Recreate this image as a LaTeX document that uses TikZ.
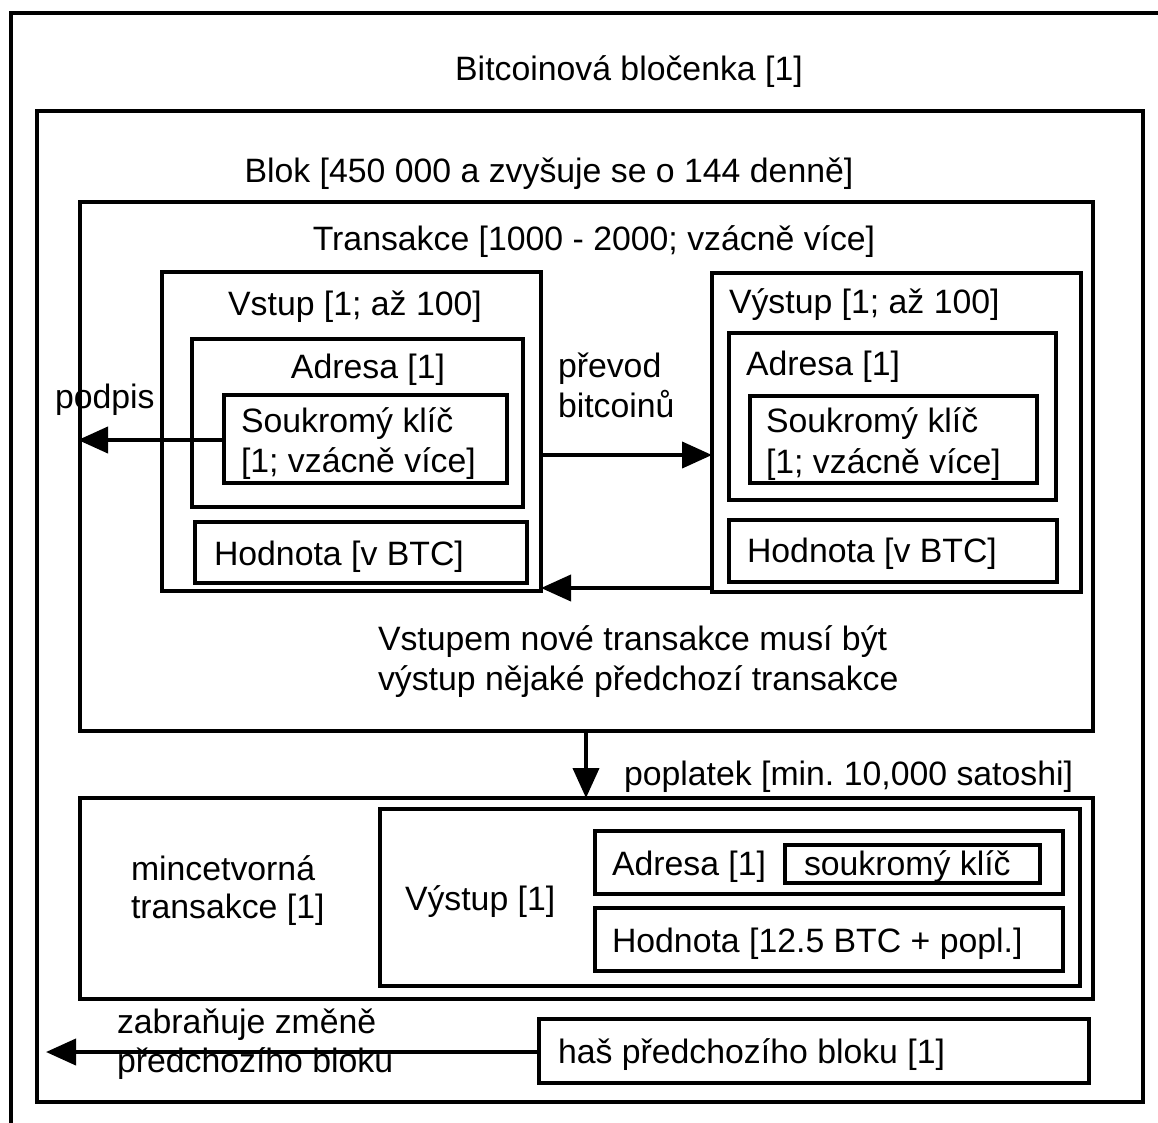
\documentclass[tikz,border=0pt]{standalone}
\usepackage{fontspec}
\setmainfont{Liberation Sans}
\usetikzlibrary{arrows.meta}
\frenchspacing
\tikzset{
  bx/.style={draw, rectangle, line width=4.5pt, inner sep=0pt, outer sep=0pt},
  lbl/.style={inner sep=0pt, outer sep=0pt, anchor=base west},
  clbl/.style={inner sep=0pt, outer sep=0pt, anchor=base},
  arr/.style={line width=4pt, -{Triangle[length=30pt,width=26pt]}},
  every node/.style={font=\fontsize{33.8pt}{40pt}\selectfont}
}
% box from corner (x1,y1) to corner (x2,y2), y measured downwards
\newcommand\bx[5]{\node[bx, minimum width={#4-#2}, minimum height={#5-#3}] (#1) at ({(#2+#4)/2},{(#3+#5)/2}) {};}
\begin{document}
\begin{tikzpicture}[x=1pt, y=-1pt]
\useasboundingbox (0,0) rectangle (1158,1122);
\clip (0,0) rectangle (1158,1122);
\fill[white] (0,0) rectangle (1158,1122);

% nested containers
\bx{chain}{11}{13}{1190}{1160}
\bx{blok}{37}{111}{1143}{1102}
\bx{tx}{80}{202}{1093}{731}
\bx{vstup}{162}{272}{541}{591}
\bx{adrL}{192}{339}{523}{507}
\bx{skL}{224}{395}{507}{483}
\bx{hodL}{195}{522}{527}{583}
\bx{vystup}{712}{273}{1081}{592}
\bx{adrR}{729}{333}{1056}{500}
\bx{skR}{750}{396}{1037}{483}
\bx{hodR}{729}{520}{1057}{582}
\bx{coin}{80}{798}{1093}{999}
\bx{cvyst}{380}{809}{1080}{986}
\bx{cadr}{595}{831}{1063}{894}
\bx{csk}{785}{845}{1040}{883}
\bx{chod}{595}{908}{1063}{971}
\bx{has}{539}{1019}{1089}{1083}

% labels
\node[clbl] (tChain) at (629,80) {Bitcoinová bločenka [1]};
\node[clbl] (tBlok) at (549,182) {Blok [450 000 a zvyšuje se o 144 denně]};
\node[clbl] (tTx) at (594,250) {Transakce [1000 - 2000; vzácně více]};
\node[clbl] (tVstup) at (355,315) {Vstup [1; až 100]};
\node[clbl] (tAdrL) at (368,378) {Adresa [1]};
\node[lbl] (tSkL1) at (241,432) {Soukromý klíč};
\node[lbl] (tSkL2) at (241,472) {[1; vzácně více]};
\node[lbl] (tHodL) at (214,565) {Hodnota [v BTC]};
\node[lbl] (tPodpis) at (55,408) {podpis};
\node[lbl] (tVystup) at (729,313) {Výstup [1; až 100]};
\node[lbl] (tAdrR) at (746,375) {Adresa [1]};
\node[lbl] (tSkR1) at (766,432) {Soukromý klíč};
\node[lbl] (tSkR2) at (766,473) {[1; vzácně více]};
\node[lbl] (tHodR) at (747,562) {Hodnota [v BTC]};
\node[lbl] (tPrevod1) at (558,377) {převod};
\node[lbl] (tPrevod2) at (558,417) {bitcoinů};
\node[lbl] (tNote1) at (378,650) {Vstupem nové transakce musí být};
\node[lbl] (tNote2) at (378,690) {výstup nějaké předchozí transakce};
\node[lbl] (tFee) at (624,785) {poplatek [min. 10,000 satoshi]};
\node[lbl] (tCoin1) at (131,880) {mincetvorná};
\node[lbl] (tCoin2) at (131,918) {transakce [1]};
\node[lbl] (tCvyst) at (405,910) {Výstup [1]};
\node[lbl] (tCadr) at (612,875) {Adresa [1]};
\node[lbl] (tCsk) at (804,875) {soukromý klíč};
\node[lbl] (tChod) at (612,952) {Hodnota [12.5 BTC + popl.]};
\node[lbl] (tHas) at (558,1063) {haš předchozího bloku [1]};
\node[lbl] (tZab1) at (117,1033) {zabraňuje změně};
\node[lbl] (tZab2) at (117,1072) {předchozího bloku};

% connector helpers
\coordinate (sigEnd) at (78,440);
\coordinate (yTransfer) at (0,455);
\coordinate (yBack) at (0,588);
\coordinate (xFee) at (586,0);
\coordinate (hashEnd) at (46,1052);

% connectors
\draw[arr] (skL.west |- sigEnd) -- (sigEnd);
\draw[arr] (vstup.east |- yTransfer) -- (vystup.west |- yTransfer);
\draw[arr] (vystup.west |- yBack) -- (vstup.east |- yBack);
\draw[arr] (tx.south -| xFee) -- (coin.north -| xFee);
\draw[arr] (has.west |- hashEnd) -- (hashEnd);
\end{tikzpicture}
\end{document}
